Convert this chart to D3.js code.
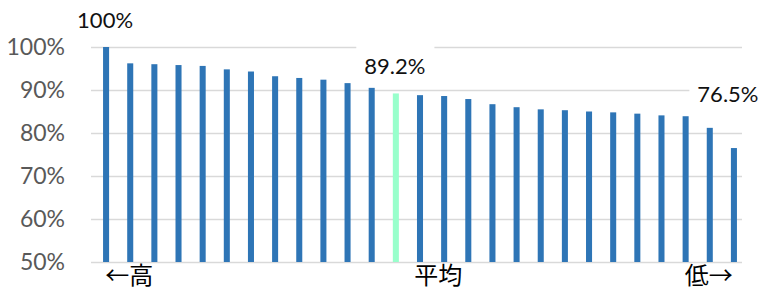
<!DOCTYPE html>
<html>
<head>
<meta charset="utf-8">
<script src="https://cdn.jsdelivr.net/npm/d3@7"></script>
<style>
  body { margin: 0; background: #fff; }
  svg { display: block; }
</style>
</head>
<body>
<script>
// 27 items sorted high -> low, the 13th one is the average
var values = [100, 96.2, 96.0, 95.8, 95.6, 94.8, 94.3, 93.2, 92.8, 92.4, 91.6, 90.5,
              89.2, 88.8, 88.6, 87.9, 86.7, 86.0, 85.5, 85.3, 85.0, 84.8, 84.5, 84.1,
              83.9, 81.2, 76.5]
var avgIndex = 12
var categories = values.map(function(d, i){ return 'c' + i })
var catLabels = {1: '←高', 14: '平均', 25: '低→'}
var yTicks = [50, 60, 70, 80, 90, 100]
var labeled = [0, 12, 26]

var width = 763
var height = 291
var numFont = 'Lato, "Liberation Sans", sans-serif'
var cjkFont = '"Noto Sans CJK JP", "Noto Sans CJK SC", sans-serif'

var svg = d3.select('body')
            .append('svg')
            .attr('width', width)
            .attr('height', height)

var gridLeft = 91, gridRight = 742

var x = d3.scaleBand()
          .domain(categories)
          .range([94, 746])
          .paddingInner(0.75)
          .paddingOuter(0.375)

var y = d3.scaleLinear()
          .domain([50, 100])
          .range([262, 47])

// gridlines + y labels
var yAxis = svg.append('g')
               .attr('transform', 'translate(' + gridLeft + ',0)')
               .call(d3.axisLeft(y)
                       .tickValues(yTicks)
                       .tickFormat(function(d){ return d + '%' })
                       .tickSize(-(gridRight - gridLeft))
                       .tickPadding(26))
yAxis.select('.domain').remove()
yAxis.selectAll('.tick line')
     .attr('stroke', '#d9d9d9')
     .attr('stroke-width', 1.6)
yAxis.selectAll('.tick text')
     .attr('fill', '#595959')
     .attr('font-size', '23px')
     .attr('font-family', numFont)

// bars
svg.selectAll('rect.bar')
   .data(values)
   .enter().append('rect')
   .attr('class', 'bar')
   .attr('x', function(d, i){ return x(categories[i]) })
   .attr('width', x.bandwidth())
   .attr('y', function(d){ return y(d) })
   .attr('height', function(d){ return y(50) - y(d) })
   .attr('fill', function(d, i){ return i === avgIndex ? '#99ffcc' : '#2e75b6' })

// data labels (white box behind, like the excel label)
labeled.forEach(function(i){
    var last = i === values.length - 1
    var cx = x(categories[i]) + x.bandwidth() / 2 + (last ? -6 : -1)
    var cy = y(values[i]) - (last ? 46 : 19)
    var g = svg.append('g')
    var bg = g.append('rect').attr('fill', '#fff')
    var t = g.append('text')
             .attr('x', cx)
             .attr('y', cy)
             .attr('text-anchor', 'middle')
             .attr('font-size', '22px')
             .attr('font-family', numFont)
             .attr('fill', '#111')
             .text(values[i] + '%')
    var b = t.node().getBBox()
    bg.attr('x', b.x - 8)
      .attr('y', b.y - 8)
      .attr('width', b.width + 17)
      .attr('height', b.height + 12)
})

// category labels under the bars
Object.keys(catLabels).forEach(function(k){
    var i = +k
    svg.append('text')
       .attr('x', x(categories[i]) + x.bandwidth() / 2 + (i === 14 ? -6 : -1))
       .attr('y', 284)
       .attr('text-anchor', 'middle')
       .attr('font-size', '24px')
       .attr('font-family', cjkFont)
       .attr('fill', '#000')
       .text(catLabels[k])
})
</script>
</body>
</html>
